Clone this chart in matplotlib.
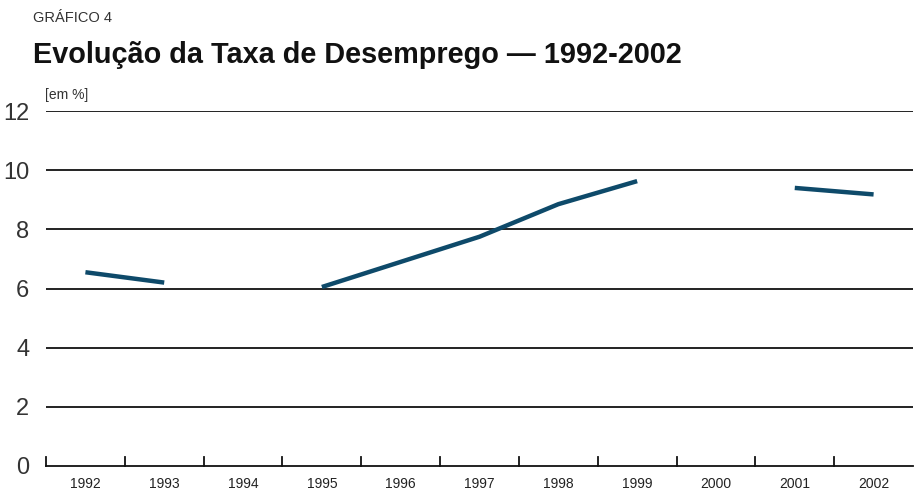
import numpy as np
import matplotlib
matplotlib.use("Agg")
import matplotlib.pyplot as plt

years = ["1992", "1993", "1994", "1995", "1996", "1997",
         "1998", "1999", "2000", "2001", "2002"]
# taxa de desemprego (%), sem dado para 1994 e 2000
taxa = [6.55, 6.2, np.nan, 6.05, 6.9, 7.75, 8.85, 9.63, np.nan, 9.4, 9.18]
y_ticks = [0, 2, 4, 6, 8, 10, 12]

plt.rcParams["font.family"] = ["Liberation Sans", "DejaVu Sans"]

fig = plt.figure(figsize=(9.14, 4.91), dpi=100)
ax = fig.add_axes([46 / 914, 1 - 466 / 491, 867 / 914, 355 / 491])

x = np.arange(len(years))
ax.plot(x, taxa, color="#0e4a6a", linewidth=3.2, solid_capstyle="butt")

ax.set_xlim(-0.5, len(years) - 0.5)
ax.set_ylim(0, 12)
ax.set_yticks(y_ticks)
ax.set_yticklabels([str(v) for v in y_ticks], fontsize=17, color="#333333")
for v in y_ticks[1:]:
    ax.axhline(v, color="#111111", linewidth=1.3, zorder=0)

ax.set_xticks(x)
ax.set_xticklabels(years, fontsize=10, color="#222222")
ax.tick_params(axis="x", length=0, pad=8)
ax.tick_params(axis="y", length=0, pad=12)
for b in np.arange(len(years)) - 0.5:
    ax.plot([b, b], [0, 0.3], color="#111111", linewidth=1.3, clip_on=False)

for s in ["top", "right", "left"]:
    ax.spines[s].set_visible(False)
ax.spines["bottom"].set_linewidth(1.3)
ax.spines["bottom"].set_color("#111111")

fig.text(33 / 914, 1 - 22 / 491, "GRÁFICO 4", fontsize=10.5, color="#333333")
fig.text(33 / 914, 1 - 63 / 491, "Evolução da Taxa de Desemprego — 1992-2002",
         fontsize=20.8, fontweight="bold", color="#111111")
fig.text(45 / 914, 1 - 99 / 491, "[em %]", fontsize=10, color="#333333")

fig.savefig("out.png", dpi=100)
